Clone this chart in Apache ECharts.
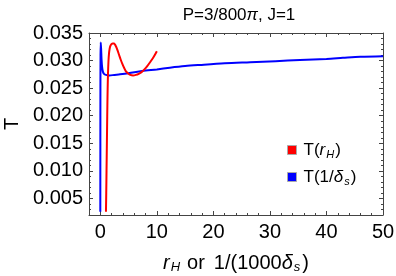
<!DOCTYPE html>
<html>
<head>
<meta charset="utf-8">
<script src="https://cdn.jsdelivr.net/npm/echarts@6/dist/echarts.min.js"></script>
<style>
html,body{margin:0;padding:0;background:#fff;}
#chart{width:396px;height:276px;}
</style>
</head>
<body>
<div id="chart"></div>
<script>
// ---- data ----
const titleText = 'P=3/800{i|π}, J=1';
const xTickLabels = [0, 10, 20, 30, 40, 50];
const yTickLabels = [0.005, 0.010, 0.015, 0.020, 0.025, 0.030, 0.035];
const seriesNames = ['T(r_H)', 'T(1/δ_s)'];
const redX = [1.00,1.05,1.10,1.15,1.20,1.25,1.30,1.36,1.44,1.54,1.66,1.80,2.00,2.20,2.40,2.60,2.80,3.00,3.30,3.60,3.90,4.20,4.50,4.90,5.30,5.80,6.30,6.80,7.30,7.80,8.30,8.80,9.40,10.00];
const redT = [0.0026,0.0060,0.0100,0.0140,0.0180,0.0218,0.0250,0.0276,0.0298,0.0313,0.0322,0.0327,0.0330,0.0331,0.0331,0.0329,0.0325,0.0320,0.0311,0.0302,0.0294,0.0287,0.0281,0.0277,0.0274,0.0273,0.0274,0.0276,0.0279,0.0284,0.0290,0.0297,0.0306,0.0317];
const blueX = [0.00,0.01,0.02,0.04,0.08,0.14,0.22,0.32,0.45,0.65,1.00,1.60,2.50,3.50,5.00,7.40,10.0,12.3,15.0,17.6,22.0,26.5,31.0,35.3,40.0,42.9,46.0,50.0];
const blueT = [0.0026,0.0150,0.0250,0.0310,0.0333,0.0322,0.0302,0.0288,0.0280,0.0276,0.0274,0.0273,0.0274,0.0275,0.0277,0.0281,0.0284,0.0287,0.0290,0.0292,0.0295,0.0297,0.0299,0.0301,0.0303,0.0305,0.0307,0.0308];

const X_MIN = -2, X_MAX = 50, Y_MIN = 0.002, Y_MAX = 0.035;
const frameColor = '#444';
const font = 'Liberation Sans, Arial, sans-serif';

const redData = redX.map((x, i) => [x, redT[i]]);
const blueData = blueX.map((x, i) => [x, blueT[i]]);

function xAxisDef(pos, major, labels) {
  const a = {
    type: 'value', position: pos, min: X_MIN, max: X_MAX, interval: 2, gridIndex: 0, scale: true,
    splitLine: { show: false },
    axisLine: { show: major, onZero: false, lineStyle: { color: frameColor, width: 1 } },
    axisLabel: { show: false },
    axisTick: { show: true, inside: true, length: major ? 4 : 2, lineStyle: { color: frameColor } }
  };
  if (major) {
    a.axisTick.customValues = xTickLabels;
    if (labels) {
      a.axisLabel = { show: true, customValues: xTickLabels, color: '#000', fontSize: 20, fontFamily: font, margin: 7 };
    }
  }
  return a;
}
function yAxisDef(pos, major, labels) {
  const a = {
    type: 'value', position: pos, min: Y_MIN, max: Y_MAX, interval: 0.001, gridIndex: 0, scale: true,
    splitLine: { show: false },
    axisLine: { show: major, onZero: false, lineStyle: { color: frameColor, width: 1 } },
    axisLabel: { show: false },
    axisTick: { show: true, inside: true, length: major ? 4 : 2, lineStyle: { color: frameColor } }
  };
  if (major) {
    a.axisTick.customValues = yTickLabels;
    if (labels) {
      a.axisLabel = { show: true, customValues: yTickLabels, color: '#000', fontSize: 20, fontFamily: font, margin: 6,
        formatter: v => v.toFixed(3) };
    }
  }
  return a;
}

const xMain = xAxisDef('bottom', true, true);
xMain.name = '{i|r}{sub|H}{a|or}{b|1/(1000}{i|δ}{sub|s}{c|)}';
xMain.nameLocation = 'middle';
xMain.nameGap = 37;
xMain.nameTextStyle = { color: '#000', fontSize: 20, fontFamily: font, lineHeight: 22,
  rich: { i: { fontStyle: 'italic', fontSize: 20, fontFamily: font, lineHeight: 22 },
          a: { fontSize: 20, fontFamily: font, lineHeight: 22, padding: [0, 0, 0, 7] },
          b: { fontSize: 20, fontFamily: font, lineHeight: 22, padding: [0, 0, 0, 9] },
          c: { fontSize: 20, fontFamily: font, lineHeight: 22, padding: [0, 0, 0, 2] },
          sub: { fontStyle: 'italic', fontSize: 13, fontFamily: font, lineHeight: 8, verticalAlign: 'bottom', padding: [0, 0, 0, 1] } } };

const yMain = yAxisDef('left', true, true);
yMain.name = 'T';
yMain.nameLocation = 'middle';
yMain.nameGap = 67;
yMain.nameTextStyle = { color: '#000', fontSize: 20, fontFamily: font };

const option = {
  animation: false,
  backgroundColor: '#fff',
  title: {
    text: titleText, left: 234, top: 2, textAlign: 'center',
    textStyle: { fontSize: 17, fontWeight: 'normal', color: '#000', fontFamily: font,
      rich: { i: { fontStyle: 'italic', fontSize: 17, fontFamily: font } } }
  },
  grid: { left: 89, right: 13, top: 33, bottom: 61, containLabel: false, outerBoundsMode: 'none' },
  xAxis: [xMain, xAxisDef('bottom', false, false), xAxisDef('top', true, false), xAxisDef('top', false, false)],
  yAxis: [yMain, yAxisDef('left', false, false), yAxisDef('right', true, false), yAxisDef('right', false, false)],
  legend: {
    left: 287, top: 140, padding: 0, orient: 'vertical', icon: 'rect', itemWidth: 9, itemHeight: 9, itemGap: 7,
    data: seriesNames,
    itemStyle: { borderColor: '#aaa', borderWidth: 1 },
    formatter: name => name === seriesNames[0] ? 'T({i|r}{sub|H})' : 'T(1/{i|δ}{sub|s})',
    textStyle: { color: '#000', fontSize: 17, fontFamily: font, lineHeight: 20, padding: [0, 0, 0, 2],
      rich: { i: { fontStyle: 'italic', fontSize: 17, fontFamily: font, lineHeight: 20 },
              sub: { fontStyle: 'italic', fontSize: 11, fontFamily: font, lineHeight: 8, verticalAlign: 'bottom', padding: [0, 1, 0, 1] } } }
  },
  series: [
    { name: seriesNames[0], type: 'line', data: redData, xAxisIndex: 0, yAxisIndex: 0, showSymbol: false, symbol: 'none',
      smooth: 0.3, lineStyle: { color: '#ff0000', width: 2 }, itemStyle: { color: '#ff0000' }, z: 3 },
    { name: seriesNames[1], type: 'line', data: blueData, xAxisIndex: 0, yAxisIndex: 0, showSymbol: false, symbol: 'none',
      smooth: 0.3, lineStyle: { color: '#0000ff', width: 2 }, itemStyle: { color: '#0000ff' }, z: 2 }
  ]
};
const chart = echarts.init(document.getElementById('chart'), null, { renderer: 'canvas' });
chart.setOption(option);
</script>
</body>
</html>
